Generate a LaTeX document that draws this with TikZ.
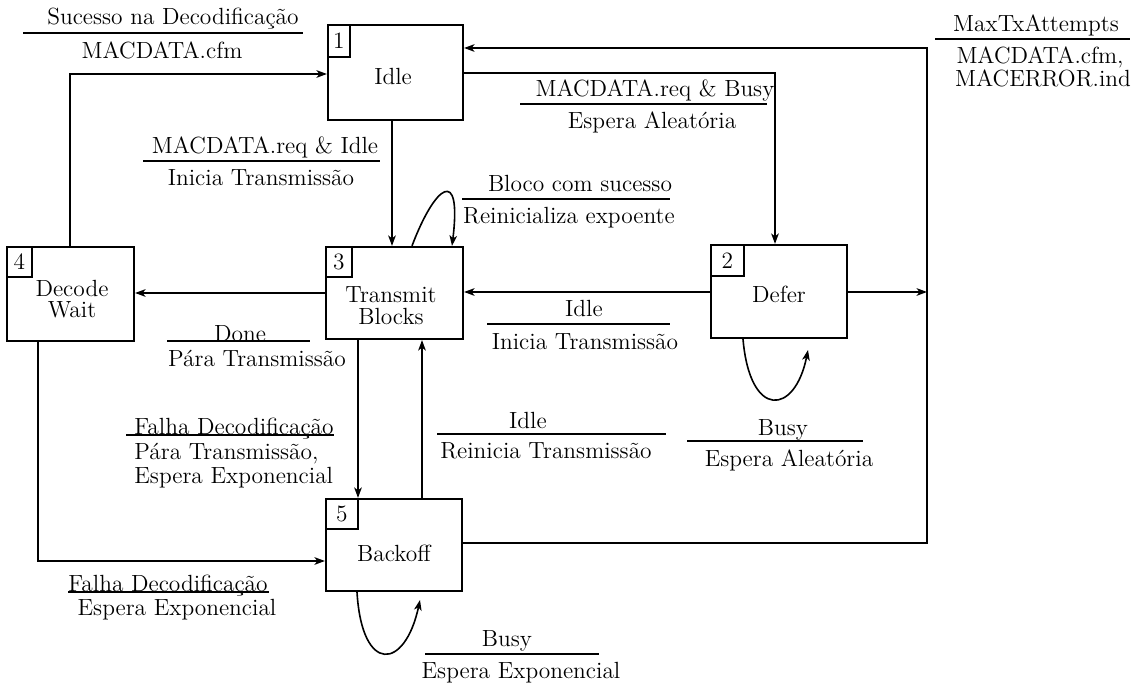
\documentclass[tikz,border=0pt]{standalone}
\usepackage{fontspec}
\usetikzlibrary{arrows.meta}
\begin{document}
\begin{tikzpicture}[x=0.5pt,y=-0.5pt,
  every node/.style={font=\fontsize{11.7}{12}\selectfont},
  state/.style={draw, line width=1.1pt, inner sep=0pt},
  numbox/.style={draw, line width=1pt, anchor=north west, inner sep=0pt},
  boxtext/.style={align=center, font=\fontsize{11.7}{10.8}\selectfont},
  conn/.style={line width=0.8pt},
  arr/.style={conn, -{Stealth[length=5.2pt,width=3.8pt,inset=1.4pt]}},
  rulel/.style={line width=0.8pt},
  lbl/.style={anchor=base, inner sep=0pt},
  lblw/.style={anchor=base west, inner sep=0pt}]
\useasboundingbox (0,0) rectangle (1142,683);

% states
\node[state, minimum width=67.5pt, minimum height=47.5pt,
  label={[numbox, minimum width=11pt, minimum height=16pt]north west:1},
  label={[boxtext, name=t1, xshift=-1.2pt, yshift=-2.25pt]center:Idle}] (b1) at (395.5,72.5) {};
\node[state, minimum width=68pt, minimum height=46.5pt,
  label={[numbox, minimum width=16.5pt, minimum height=15.5pt]north west:2},
  label={[boxtext, name=t2, yshift=-1.25pt]center:Defer}] (b2) at (779,291.5) {};
\node[state, minimum width=68.5pt, minimum height=46pt,
  label={[numbox, minimum width=13pt, minimum height=15pt]north west:3},
  label={[boxtext, name=t3, xshift=-1.75pt, yshift=-6.25pt]center:Transmit\\Blocks}] (b3) at (394.5,293) {};
\node[state, minimum width=63.5pt, minimum height=47pt,
  label={[numbox, minimum width=12.5pt, minimum height=15pt]north west:4},
  label={[boxtext, name=t4, xshift=0.75pt, yshift=-2.5pt]center:Decode\\Wait}] (b4) at (70.5,294) {};
\node[state, minimum width=68pt, minimum height=46pt,
  label={[numbox, minimum width=16pt, minimum height=15pt]north west:5},
  label={[boxtext, name=t5, yshift=-4pt]center:Backoff}] (b5) at (394,545) {};

% free ends
\coordinate (jtop) at (927,48);
\coordinate (jmid) at (927,292);
\coordinate (l2end) at (808,350);
\coordinate (l5end) at (420,600);

% connectors
\draw[arr] (b4.north -| 70,0) |- (b1.west |- 0,74);
\draw[arr] (b5.east |- 0,543) -| (jtop) -- (b1.east |- jtop);
\draw[arr] (b1.east |- 0,73) -| (b2.north -| 775,0);
\draw[arr] (b1.south -| 392,0) -- (b3.north -| 392,0);
\draw[arr] (b3.north -| 412,0) .. controls (435,185) and (462,165) .. (b3.north -| 452,0);
\draw[arr] (b3.west |- 0,293) -- (b4.east |- 0,293);
\draw[arr] (b2.west |- 0,292) -- (b3.east |- 0,292);
\draw[arr] (b2.east |- jmid) -- (jmid);
\draw[arr] (b3.south -| 358,0) -- (b5.north -| 358,0);
\draw[arr] (b5.north -| 422,0) -- (b3.south -| 422,0);
\draw[arr] (b4.south -| 38,0) |- (b5.west |- 0,561);
\draw[arr] (b2.south -| 743,0) .. controls (750,420) and (795,415) .. (l2end);
\draw[arr] (b5.south -| 357,0) .. controls (362,675) and (405,670) .. (l5end);

% labels
\node[lbl] (L1a) at (173,25) {Sucesso na Decodificação};
\draw[rulel] (23,33) -- (303,33);
\node[lbl] (L1b) at (162,59) {MACDATA.cfm};

\node[lbl] (L2a) at (265,154) {MACDATA.req \& Idle};
\draw[rulel] (143,161) -- (380,161);
\node[lbl] (L2b) at (261,186) {Inicia Transmissão};

\node[lbl] (L3a) at (655,97) {MACDATA.req \& Busy};
\draw[rulel] (520,104) -- (767,104);
\node[lbl] (L3b) at (652,129) {Espera Aleatória};

\node[lbl] (L4a) at (580,192) {Bloco com sucesso};
\draw[rulel] (462,199) -- (670,199);
\node[lbl] (L4b) at (569,224) {Reinicializa expoente};

\node[lbl] (L5a) at (1036,32) {MaxTxAttempts};
\draw[rulel] (935,39) -- (1130,39);
\node[lbl] (L5b) at (1040,64) {MACDATA.cfm,};
\node[lbl] (L5c) at (1043,87) {MACERROR.ind};

\node[lbl] (L6a) at (240,342) {Done};
\draw[rulel] (167,341) -- (310,341);
\node[lbl] (L6b) at (257,367) {Pára Transmissão};

\node[lbl] (L7a) at (584,317) {Idle};
\draw[rulel] (487,324) -- (670,324);
\node[lbl] (L7b) at (585,350) {Inicia Transmissão};

\node[lblw] (L8a) at (134,435) {Falha Decodificação};
\draw[rulel] (126,435) -- (334,435);
\node[lblw] (L8b) at (134,460) {Pára Transmissão,};
\node[lblw] (L8c) at (134,484) {Espera Exponencial};

\node[lbl] (L9a) at (528,429) {Idle};
\draw[rulel] (437,434) -- (666,434);
\node[lbl] (L9b) at (546,459) {Reinicia Transmissão};

\node[lbl] (L10a) at (783,436) {Busy};
\draw[rulel] (687,441) -- (863,441);
\node[lbl] (L10b) at (789,467) {Espera Aleatória};

\node[lbl] (L11a) at (168,592) {Falha Decodificação};
\draw[rulel] (68,592) -- (269,592);
\node[lbl] (L11b) at (177,616) {Espera Exponencial};

\node[lbl] (L12a) at (507,647) {Busy};
\draw[rulel] (425,654) -- (599,654);
\node[lbl] (L12b) at (521,679) {Espera Exponencial};
\end{tikzpicture}
\end{document}
